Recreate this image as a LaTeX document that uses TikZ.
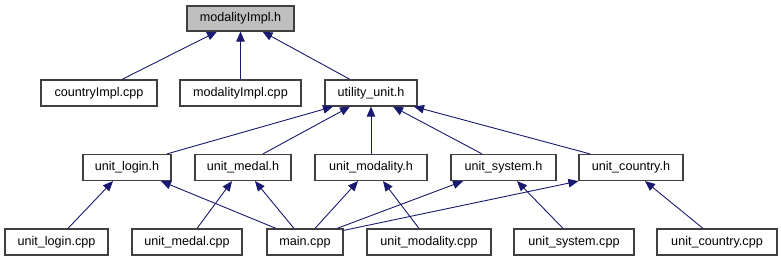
\documentclass[tikz,border=0pt]{standalone}
\usepackage{fontspec}
\setmainfont{Liberation Sans}
\usetikzlibrary{arrows.meta}
\definecolor{edgeblue}{HTML}{191970}
\definecolor{boxline}{HTML}{404040}
\definecolor{rootfill}{HTML}{BFBFBF}
\begin{document}
\begin{tikzpicture}[x=1pt,y=-1pt,
  file/.style={draw=boxline,line width=1.2pt,fill=white,inner sep=0pt,
    minimum height=26pt,font=\fontsize{12.6}{14}\selectfont},
  root/.style={file,fill=rootfill},
  dep/.style={draw=edgeblue,line width=0.9pt,
    -{Triangle[length=10pt,width=8.5pt]}}]
\useasboundingbox[fill=white] (0,0) rectangle (781,261);

% the header whose include graph is drawn
\node[root,minimum width=107pt,minimum height=25pt] (modh) at (240.5,18.5) {modalityImpl.h};

% first level
\node[file,minimum width=116pt] (ccpp) at (99,93) {countryImpl.cpp};
\node[file,minimum width=121pt] (mcpp) at (240.5,93) {modalityImpl.cpp};
\node[file,minimum width=92pt]  (util) at (371,93) {utility\_unit.h};

% unit headers
\node[file,minimum width=88pt]  (loginh)  at (127,167.5)   {unit\_login.h};
\node[file,minimum width=96pt]  (medalh)  at (243,167.5)   {unit\_medal.h};
\node[file,minimum width=112pt] (modalh)  at (371,167.5)   {unit\_modality.h};
\node[file,minimum width=105pt] (systemh) at (503.5,167.5) {unit\_system.h};
\node[file,minimum width=104pt] (countryh) at (631,167.5)  {unit\_country.h};

% sources
\node[file,minimum width=103pt] (logincpp)  at (56.5,242) {unit\_login.cpp};
\node[file,minimum width=110pt] (medalcpp)  at (187,242)  {unit\_medal.cpp};
\node[file,minimum width=76pt]  (maincpp)   at (305,242)  {main.cpp};
\node[file,minimum width=124pt] (modalcpp)  at (429,242)  {unit\_modality.cpp};
\node[file,minimum width=120pt] (systemcpp) at (574,242)  {unit\_system.cpp};
\node[file,minimum width=120pt] (countrycpp) at (717,242) {unit\_country.cpp};

% includes of modalityImpl.h
\draw[dep] ([xshift=23pt]ccpp.north) -- ([xshift=-23.5pt]modh.south);
\draw[dep] (mcpp.north) -- (modh.south);
\draw[dep] ([xshift=-21pt]util.north) -- ([xshift=22pt]modh.south);

% includes of utility_unit.h
\draw[dep] ([xshift=40pt]loginh.north) -- ([xshift=-38pt]util.south);
\draw[dep] ([xshift=20pt]medalh.north) -- ([xshift=-21pt]util.south);
\draw[dep] (modalh.north) -- (util.south);
\draw[dep] ([xshift=-21.5pt]systemh.north) -- ([xshift=22pt]util.south);
\draw[dep] ([xshift=-41pt]countryh.north) -- ([xshift=43pt]util.south);

% includes of the unit headers
\draw[dep] ([xshift=11.5pt]logincpp.north) -- ([xshift=-14pt]loginh.south);
\draw[dep] ([xshift=-29pt]maincpp.north) -- ([xshift=34pt]loginh.south);
\draw[dep] ([xshift=10pt]medalcpp.north) -- ([xshift=-11pt]medalh.south);
\draw[dep] ([xshift=-11pt]maincpp.north) -- ([xshift=12pt]medalh.south);
\draw[dep] ([xshift=10pt]maincpp.north) -- ([xshift=-13pt]modalh.south);
\draw[dep] ([xshift=-10pt]modalcpp.north) -- ([xshift=12pt]modalh.south);
\draw[dep] ([xshift=32pt]maincpp.north) -- ([xshift=-40.5pt]systemh.south);
\draw[dep] ([yshift=-2pt]maincpp.north east) -- (countryh.south west);
\draw[dep] ([xshift=-11pt]systemcpp.north) -- ([xshift=13.5pt]systemh.south);
\draw[dep] ([xshift=-14pt]countrycpp.north) -- ([xshift=14pt]countryh.south);
\end{tikzpicture}
\end{document}
